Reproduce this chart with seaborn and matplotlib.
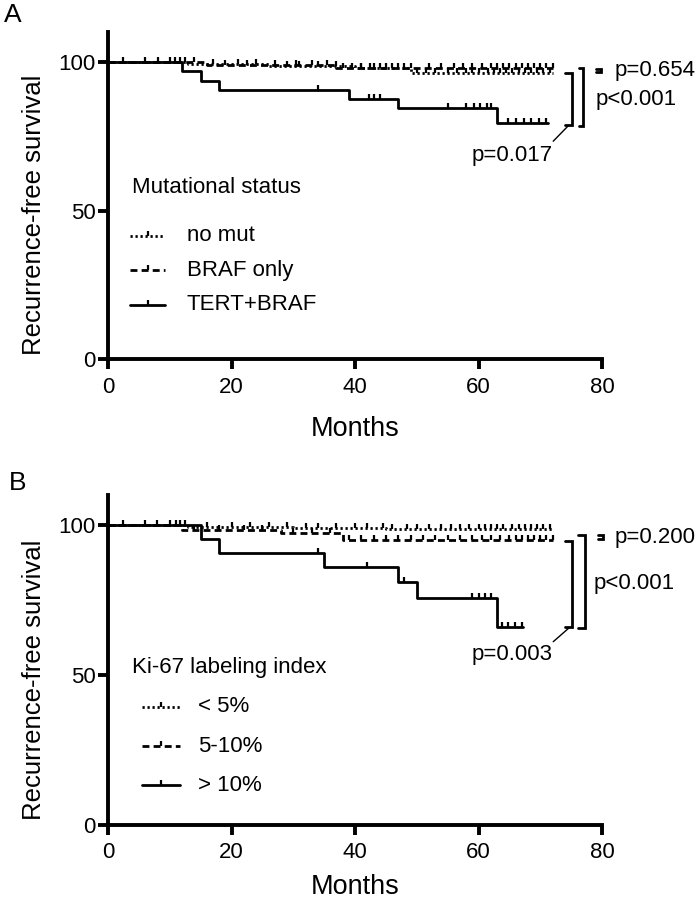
import matplotlib
matplotlib.use("Agg")
import matplotlib.pyplot as plt
import seaborn as sns

sns.set_theme(style="ticks")
plt.rcParams['font.family'] = ['Liberation Sans', 'DejaVu Sans']
plt.rcParams.update({"text.color": "black", "axes.labelcolor": "black",
                     "xtick.color": "black", "ytick.color": "black",
                     "axes.edgecolor": "black"})

# ---------------- data ----------------
# Panel A: Mutational status
a_labels = ["no mut", "BRAF only", "TERT+BRAF"]
a_nomut_t = [0, 13, 26, 40, 49]
a_nomut_s = [100, 99.3, 98.7, 98.0, 96.3]
a_nomut_end = 72
a_nomut_cens = [2.5, 8.1, 10.9, 12.5, 17, 21, 24, 29, 31, 34, 37, 41, 42.5, 44, 46, 48, 50,
                51.5, 53, 55, 56.5, 58, 59, 60, 61.5, 62.5, 63.5, 64.5, 65.5, 66.5, 67.5,
                68.5, 69.5, 70.5, 71.5]
a_braf_t = [0, 16, 37]
a_braf_s = [100, 99.0, 97.9]
a_braf_end = 72
a_braf_cens = [6, 10, 11.7, 14, 19, 22.5, 27, 30.5, 33, 35.5, 38, 39.5, 41, 43, 45, 47, 49,
               52, 54, 56, 57.5, 59, 60.5, 62, 63, 64, 65, 66, 67, 68, 69, 70, 71, 72]
a_tert_t = [0, 12, 15, 18, 39, 47, 63]
a_tert_s = [100, 96.8, 93.6, 90.6, 87.6, 84.5, 79.5]
a_tert_end = 71.2
a_tert_cens = [34, 42.2, 43, 44, 55, 58, 59.2, 60.2, 61.3, 62.1, 64.8, 66.1, 67.3, 68.5,
               69.8, 71.0]

# Panel B: Ki-67 labeling index
b_labels = ["< 5%", "5-10%", "> 10%"]
b_low_t = [0, 13, 30, 45]
b_low_s = [100, 99.5, 99.0, 98.6]
b_low_end = 72
b_low_cens = [2.5, 8, 11, 12.5, 16, 20, 23, 26, 29, 32, 34, 37, 40, 42, 44.5, 46, 48.5, 50,
              52, 54, 55.5, 57, 58.5, 60, 61, 62, 63, 64, 65.5, 66.5, 67.5, 68.5, 69.5,
              70.5, 71.5]
b_mid_t = [0, 12, 28, 38]
b_mid_s = [100, 98.5, 97.5, 95.1]
b_mid_end = 72
b_mid_cens = [6, 10, 11.7, 14, 18, 22, 25, 30, 33, 36, 39, 41, 43, 45, 47, 49, 51, 53, 55,
              57, 59, 60.5, 62, 63.5, 65, 66, 67, 68, 69, 70, 71, 72]
b_high_t = [0, 15, 18, 35, 47, 50, 63]
b_high_s = [100, 95.2, 90.6, 85.9, 81.1, 75.8, 65.9]
b_high_end = 67.2
b_high_cens = [34, 42, 48, 59, 60, 61, 62.1, 63.8, 64.8, 65.9, 67]

a_pvals = ["p=0.654", "p<0.001", "p=0.017"]
b_pvals = ["p=0.200", "p<0.001", "p=0.003"]

x_ticks = [0, 20, 40, 60, 80]
y_ticks = [0, 50, 100]

# ---------------- style ----------------
LW = 2.0
DOT = (0, (0.8, 1.0))
DASH = (0, (2.5, 1.5))
SOLID = "-"
FS_TICK = 16
FS_LAB = 18.5
FS_TXT = 16
MS = 3.6
MEW = 1.6


def surv_at(times, levels, t):
    s = levels[0]
    for ti, li in zip(times, levels):
        if ti <= t:
            s = li
    return s


def draw_curve(ax, times, levels, end, censor, ls):
    x = list(times) + [end]
    y = list(levels) + [levels[-1]]
    sns.lineplot(x=x, y=y, ax=ax, color="black", lw=LW, linestyle=ls,
                 drawstyle="steps-post", estimator=None, sort=False)
    cy = [surv_at(times, levels, c) for c in censor]
    sns.lineplot(x=censor, y=cy, ax=ax, color="black", linestyle="", marker=2,
                 markersize=MS, markeredgewidth=MEW, markeredgecolor="black",
                 estimator=None, sort=False)


def bracket(ax, x0, x1, ytop, ybot):
    ax.plot([x0, x1, x1, x0], [ytop, ytop, ybot, ybot], color="black", lw=2.0,
            clip_on=False, solid_joinstyle="miter")


def legend(ax, title, labels, styles, tx, ty, lx0, lx1, txtx, ys):
    ax.text(tx, ty, title, transform=ax.transAxes, fontsize=FS_TXT, va="center", ha="left")
    for lab, ls, y in zip(labels, styles, ys):
        ax.plot([lx0, lx1], [y, y], transform=ax.transAxes, color="black", lw=LW,
                linestyle=ls, clip_on=False)
        ax.plot([(lx0 + lx1) / 2], [y], transform=ax.transAxes, color="black",
                linestyle="", marker=2, markersize=MS, markeredgewidth=MEW,
                markeredgecolor="black", clip_on=False)
        ax.text(txtx, y, lab, transform=ax.transAxes, fontsize=FS_TXT, va="center", ha="left")


def style_axes(ax, xlabelpad):
    ax.set_xlim(0, 80)
    ax.set_ylim(0, 110)
    ax.set_xticks(x_ticks)
    ax.set_yticks(y_ticks)
    sns.despine(ax=ax)
    for sp in ["left", "bottom"]:
        ax.spines[sp].set_linewidth(2.8)
        ax.spines[sp].set_color("black")
    ax.tick_params(axis="both", width=2.8, length=7.5, color="black",
                   labelsize=FS_TICK, labelcolor="black")
    ax.tick_params(axis="y", pad=1.5)
    ax.tick_params(axis="x", pad=5)
    ax.set_xlabel("Months", fontsize=FS_LAB + 1, labelpad=xlabelpad, color="black")
    ax.set_ylabel("Recurrence-free survival", fontsize=FS_LAB, color="black")
    ax.yaxis.set_label_coords(-0.125, 0.44)
    ax.set_facecolor("white")
    ax.grid(False)


fig = plt.figure(figsize=(7, 9.06), dpi=100)
fig.patch.set_facecolor("white")
axA = fig.add_axes([0.1543, 0.6034, 0.7057, 0.3613])
axB = fig.add_axes([0.1543, 0.0894, 0.7057, 0.3642])

# Panel A
draw_curve(axA, a_nomut_t, a_nomut_s, a_nomut_end, a_nomut_cens, DOT)
draw_curve(axA, a_braf_t, a_braf_s, a_braf_end, a_braf_cens, DASH)
draw_curve(axA, a_tert_t, a_tert_s, a_tert_end, a_tert_cens, SOLID)
style_axes(axA, 13)
legend(axA, "Mutational status", a_labels, [DOT, DASH, SOLID],
       0.048, 0.524, 0.0445, 0.1154, 0.159, [0.377, 0.272, 0.167])
bracket(axA, 79.1, 79.9, 97.7, 96.4)
bracket(axA, 74.0, 75.1, 96.2, 78.9)
bracket(axA, 76.2, 77.0, 97.9, 78.4)
axA.plot([74.5, 72.1], [78.4, 73.3], color="black", lw=1.0, clip_on=False)
axA.text(82.1, 96.9, a_pvals[0], fontsize=FS_TXT, va="center", ha="left")
axA.text(78.9, 87.3, a_pvals[1], fontsize=FS_TXT, va="center", ha="left")
axA.text(72.0, 68.6, a_pvals[2], fontsize=FS_TXT, va="center", ha="right")

# Panel B
draw_curve(axB, b_low_t, b_low_s, b_low_end, b_low_cens, DOT)
draw_curve(axB, b_mid_t, b_mid_s, b_mid_end, b_mid_cens, DASH)
draw_curve(axB, b_high_t, b_high_s, b_high_end, b_high_cens, SOLID)
style_axes(axB, 8)
legend(axB, "Ki-67 labeling index", b_labels, [DOT, DASH, SOLID],
       0.048, 0.476, 0.0682, 0.1457, 0.182, [0.358, 0.239, 0.121])
bracket(axB, 79.3, 80.2, 96.8, 95.3)
bracket(axB, 74.0, 75.1, 94.8, 65.9)
bracket(axB, 76.1, 77.2, 96.7, 65.6)
axB.plot([74.6, 72.1], [65.6, 61.1], color="black", lw=1.0, clip_on=False)
axB.text(82.1, 96.0, b_pvals[0], fontsize=FS_TXT, va="center", ha="left")
axB.text(78.6, 80.6, b_pvals[1], fontsize=FS_TXT, va="center", ha="left")
axB.text(72.0, 56.7, b_pvals[2], fontsize=FS_TXT, va="center", ha="right")

fig.text(0.005, 1 - 15 / 906, "A", fontsize=19, va="center", ha="left")
fig.text(0.012, 1 - 483 / 906, "B", fontsize=19, va="center", ha="left")

fig.savefig("out.png", dpi=100, facecolor="white")
